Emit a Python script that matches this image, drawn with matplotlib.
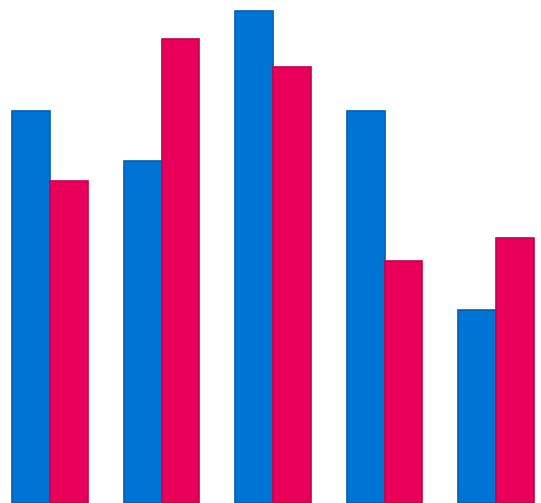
import numpy as np
import matplotlib
matplotlib.use("Agg")
import matplotlib.pyplot as plt

groups = ["A", "B", "C", "D", "E"]
blue_vals = [79.7, 69.6, 100, 79.7, 39.2]
pink_vals = [65.5, 94.3, 88.6, 49.3, 53.8]

x = np.arange(len(groups))
w = 0.34

fig = plt.figure(figsize=(5.41, 5.03), dpi=100)
ax = fig.add_axes([0, 0, 1, 1])
ax.bar(x - w / 2, blue_vals, w, color="#0074d4", edgecolor="#0060b0", linewidth=1.2)
ax.bar(x + w / 2, pink_vals, w, color="#e8005a", edgecolor="#c8004e", linewidth=1.2)

# group spacing ~111.5 px, first group centre at px 50
ax.set_xlim(-50 / 111.5, (541 - 50) / 111.5)
ax.set_ylim(0, 102.3)
ax.axis("off")

fig.savefig("out.png", dpi=100)
